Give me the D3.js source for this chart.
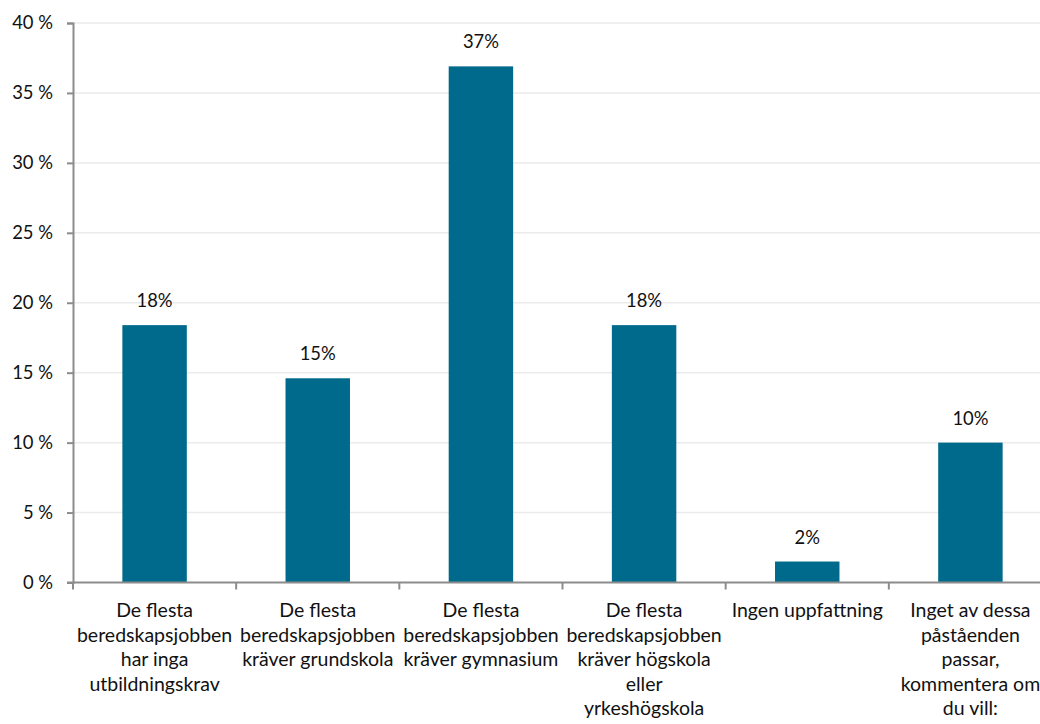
<!DOCTYPE html>
<html>
<head>
<meta charset="utf-8">
<script src="https://cdn.jsdelivr.net/npm/d3@7"></script>
<style>
  body { margin: 0; background: #fff; }
  text { font-family: Lato, "Open Sans", sans-serif; fill: #111; }
</style>
</head>
<body>
<svg id="chart" width="1040" height="724"></svg>
<script>
// datos del gráfico
const categorias = [
    ["De flesta", "beredskapsjobben", "har inga", "utbildningskrav"],
    ["De flesta", "beredskapsjobben", "kräver grundskola"],
    ["De flesta", "beredskapsjobben", "kräver gymnasium"],
    ["De flesta", "beredskapsjobben", "kräver högskola", "eller", "yrkeshögskola"],
    ["Ingen uppfattning"],
    ["Inget av dessa", "påståenden", "passar,", "kommentera om", "du vill:"]
];
const valores = [18.4, 14.6, 36.9, 18.4, 1.5, 10.0];
const etiquetas = ["18%", "15%", "37%", "18%", "2%", "10%"];
const ticksY = [0, 5, 10, 15, 20, 25, 30, 35, 40];

let svg = d3.select("#chart");
const izq = 73, der = 1052, arriba = 23, abajo = 582.5;
const fuente = "18.4px";

let x = d3.scaleBand()
    .domain(d3.range(categorias.length))
    .range([izq, der])
    .paddingInner(0.605)
    .paddingOuter(0.3025);

let y = d3.scaleLinear()
    .domain([0, 40])
    .range([abajo, arriba]);

// rejilla
svg.append("g")
    .selectAll("line")
    .data(ticksY.slice(1))
    .enter()
    .append("line")
    .attr("x1", izq).attr("x2", der)
    .attr("y1", d => y(d)).attr("y2", d => y(d))
    .attr("stroke", "#ebebeb")
    .attr("stroke-width", 1.5);

// barras
svg.append("g")
    .selectAll("rect")
    .data(valores)
    .enter()
    .append("rect")
    .attr("x", (d, i) => x(i))
    .attr("width", x.bandwidth())
    .attr("y", d => y(d))
    .attr("height", d => y(0) - y(d))
    .attr("fill", "#006a8c");

// etiquetas de datos
svg.append("g")
    .selectAll("text")
    .data(valores)
    .enter()
    .append("text")
    .attr("x", (d, i) => x(i) + x.bandwidth() / 2)
    .attr("y", d => y(d) - 18)
    .attr("text-anchor", "middle")
    .attr("font-size", fuente)
    .text((d, i) => etiquetas[i]);

// eje Y
let ejeY = svg.append("g")
    .attr("transform", `translate(${izq},0)`)
    .call(d3.axisLeft(y).tickValues(ticksY).tickSize(6).tickPadding(14)
        .tickFormat(d => d + " %"));
ejeY.select(".domain").attr("stroke", "#8c8c8c").attr("stroke-width", 2);
ejeY.selectAll(".tick line").attr("stroke", "#8c8c8c").attr("stroke-width", 2);
ejeY.selectAll("text").attr("font-size", fuente).attr("font-family", "Lato, sans-serif").attr("fill", "#111");

// eje X
let limites = d3.range(categorias.length + 1).map(i => izq + i * x.step());
svg.append("line")
    .attr("x1", izq - 6).attr("x2", der)
    .attr("y1", abajo).attr("y2", abajo)
    .attr("stroke", "#8c8c8c").attr("stroke-width", 2);
svg.append("g")
    .selectAll("line")
    .data(limites)
    .enter()
    .append("line")
    .attr("x1", d => d).attr("x2", d => d)
    .attr("y1", abajo).attr("y2", abajo + 7)
    .attr("stroke", "#8c8c8c").attr("stroke-width", 2);

// etiquetas de categorías
let grupos = svg.append("g")
    .selectAll("text")
    .data(categorias)
    .enter()
    .append("text")
    .attr("text-anchor", "middle")
    .attr("font-size", "19.5px")
    .attr("transform", (d, i) => `translate(${x(i) + x.bandwidth() / 2},617)`);
grupos.selectAll("tspan")
    .data(d => d)
    .enter()
    .append("tspan")
    .attr("x", 0)
    .attr("y", (d, j) => j * 24.6)
    .text(d => d);
</script>
</body>
</html>
